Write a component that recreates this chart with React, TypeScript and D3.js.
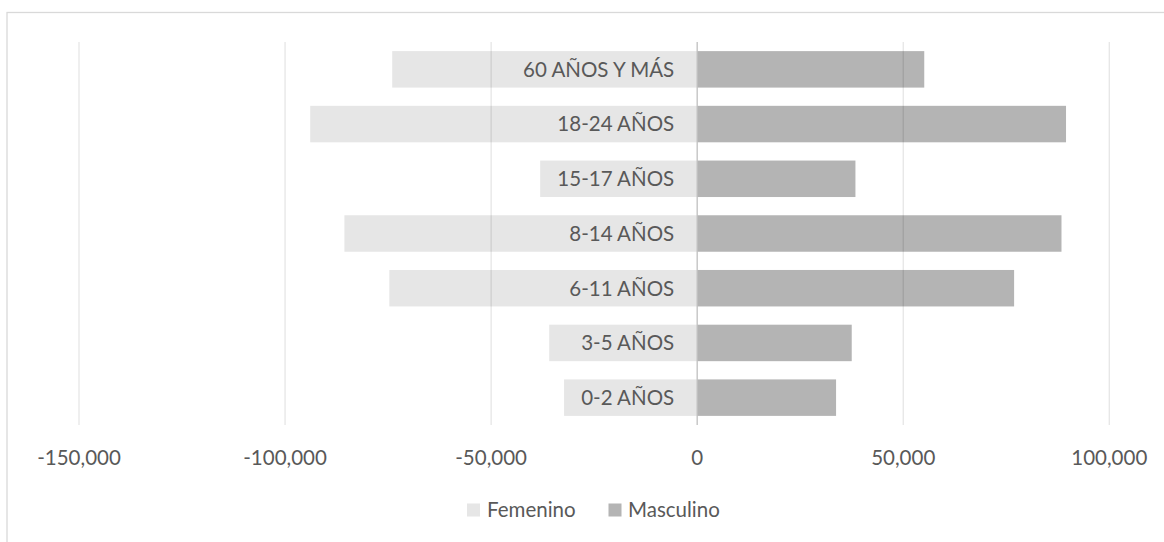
import React from "react";
import * as d3 from "d3";

const categories = ["60 AÑOS Y MÁS", "18-24 AÑOS", "15-17 AÑOS", "8-14 AÑOS", "6-11 AÑOS", "3-5 AÑOS", "0-2 AÑOS"];
const femenino = [-74000, -93900, -38100, -85600, -74700, -35900, -32300];
const masculino = [55100, 89500, 38400, 88400, 76900, 37500, 33700];
const tickValues = [-150000, -100000, -50000, 0, 50000, 100000];
const seriesNames = ["Femenino", "Masculino"];

const W = 1164;
const H = 542;
const FONT = "Lato, 'Open Sans', sans-serif";
const TEXT = "#595959";
const COLORS = ["#e6e6e6", "#b4b4b4"];

const fmt = d3.formatLocale({ decimal: ".", thousands: ",", grouping: [3], currency: ["$", ""], minus: "-" }).format(",");

export default function App() {
  const x = d3.scaleLinear().domain([-150000, 100000]).range([79, 1109.3]);
  const y = d3.scaleBand<string>().domain(categories).range([42, 425]).paddingInner(1 / 3).paddingOuter(1 / 6);
  const bw = y.bandwidth();
  const x0 = x(0);

  return (
    <svg width={W} height={H} style={{ position: "absolute", left: 0, top: 0, background: "#fff" }} fontFamily={FONT}>
      <rect x={7} y={12.5} width={W + 20} height={H + 20} fill="#fff" stroke="#d9d9d9" strokeWidth={1.3} />
      {categories.map((c, i) => (
        <g key={c}>
          <rect x={x(femenino[i])} y={y(c)} width={x0 - x(femenino[i])} height={bw} fill={COLORS[0]} />
          <rect x={x0} y={y(c)} width={x(masculino[i]) - x0} height={bw} fill={COLORS[1]} />
        </g>
      ))}
      {tickValues.filter((t) => t !== 0).map((t) => (
        <line key={t} x1={x(t)} x2={x(t)} y1={42} y2={425} stroke="#000" strokeOpacity={0.1} strokeWidth={1.3} />
      ))}
      <line x1={x0} x2={x0} y1={42} y2={425} stroke="#bfbfbf" strokeWidth={1.3} />
      {categories.map((c) => (
        <text key={c} x={x0 - 23} y={(y(c) as number) + bw / 2 + 7.3} textAnchor="end" fontSize={20.5} fill={TEXT}>
          {c}
        </text>
      ))}
      {tickValues.map((t) => (
        <text key={t} x={x(t)} y={464.5} textAnchor="middle" fontSize={20.5} fill={TEXT}>
          {fmt(t)}
        </text>
      ))}
      <g>
        <rect x={467} y={503.5} width={13} height={13} fill={COLORS[0]} />
        <text x={487} y={517} fontSize={20.5} fill={TEXT}>{seriesNames[0]}</text>
        <rect x={608.5} y={503.5} width={13} height={13} fill={COLORS[1]} />
        <text x={628} y={517} fontSize={20.5} fill={TEXT}>{seriesNames[1]}</text>
      </g>
    </svg>
  );
}
